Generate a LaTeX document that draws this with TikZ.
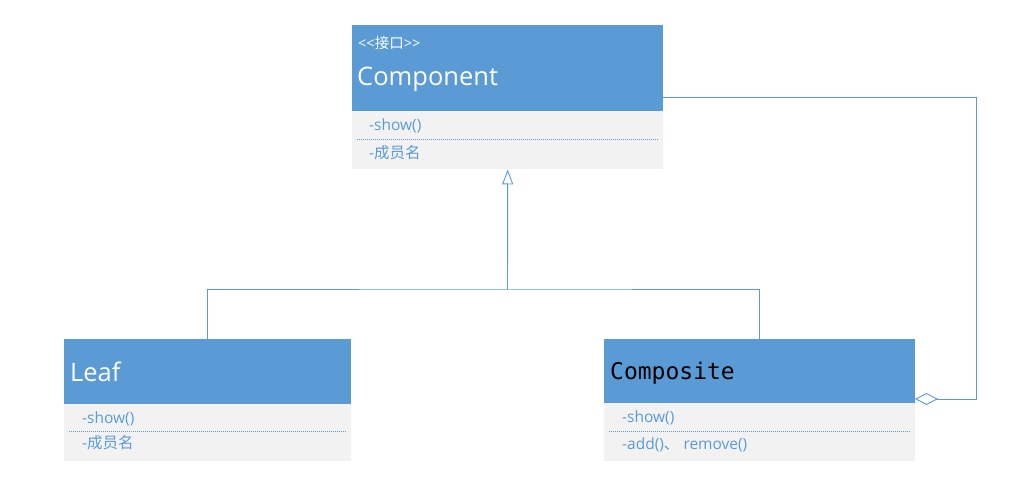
\documentclass[tikz,border=0pt]{standalone}
\usepackage{fontspec}
\setmainfont{Open Sans}
\newfontfamily\cjk{Noto Sans CJK SC}
\newfontfamily\monof{DejaVu Sans Mono}
\usetikzlibrary{arrows.meta}
\definecolor{umlblue}{HTML}{5B9BD5}
\definecolor{umlgray}{HTML}{F2F2F2}
\tikzset{
  hdr/.style={fill=umlblue, draw=none, minimum width=#1, inner sep=0pt, anchor=north west},
  bdy/.style={fill=umlgray, draw=none, minimum width=#1, inner sep=0pt, anchor=north west},
  title/.style={anchor=west, inner sep=0pt, text=white, font=\fontsize{25.5}{30}\selectfont},
  member/.style={anchor=west, inner sep=0pt, text=umlblue, font=\fontsize{15.5}{18}\selectfont},
  sep/.style={umlblue, dash pattern=on 1pt off 1pt, line width=0.8pt},
  conn/.style={umlblue, line width=0.9pt},
}
\begin{document}
\begin{tikzpicture}[x=1pt,y=-1pt]
\useasboundingbox (0,0) rectangle (1033,497);
% Component
\node[hdr=311pt, minimum height=86pt] (comph) at (352,25) {};
\node[bdy=311pt, minimum height=58pt] (compb) at (352,111) {};
\node[anchor=west, inner sep=0pt, text=white, font=\fontsize{14.5}{16}\selectfont] (stereo) at (358,43) {{<}{<}{\cjk 接口}{>}{>}};
\node[title] (compt) at (357,79) {Component};
\node[member] (cm1) at (369,126) {-show()};
\draw[sep] (357,139) -- (659,139);
\node[member] (cm2) at (369,153) {-{\cjk 成员名}};
% Leaf
\node[hdr=287pt, minimum height=65pt] (leafh) at (64,339) {};
\node[bdy=287pt, minimum height=57pt] (leafb) at (64,404) {};
\node[title] (leaft) at (70,372) {Leaf};
\node[member] (lm1) at (82,419) {-show()};
\draw[sep] (69,431) -- (347,431);
\node[member] (lm2) at (82,443) {-{\cjk 成员名}};
% Composite
\node[hdr=311pt, minimum height=64pt] (coh) at (604,339) {};
\node[bdy=311pt, minimum height=58pt] (cob) at (604,403) {};
\node[anchor=west, inner sep=0pt, text=black, font=\monof\fontsize{23}{26}\selectfont] (cot) at (610,373) {Composite};
\node[member] (com1) at (622,418) {-show()};
\draw[sep] (609,431) -- (910,431);
\node[member] (com2) at (622,445) {-add(){\cjk 、} remove()};
% Connectors
\coordinate (bus) at (507.5,289);
\draw[conn] (leafh.north) |- (bus) -| (coh.north);
\draw[conn, -{Triangle[open, width=11pt, length=15pt, fill=white]}] (bus) -- (compb.south);
\coordinate (aggsrc) at (663,97);
\coordinate (aggdst) at (915,399);
\coordinate (aggcorner) at (976,97);
\draw[conn, {Diamond[open, width=12pt, length=23pt, fill=white]}-] (aggdst) -| (aggcorner) -- (aggsrc);
\end{tikzpicture}
\end{document}
